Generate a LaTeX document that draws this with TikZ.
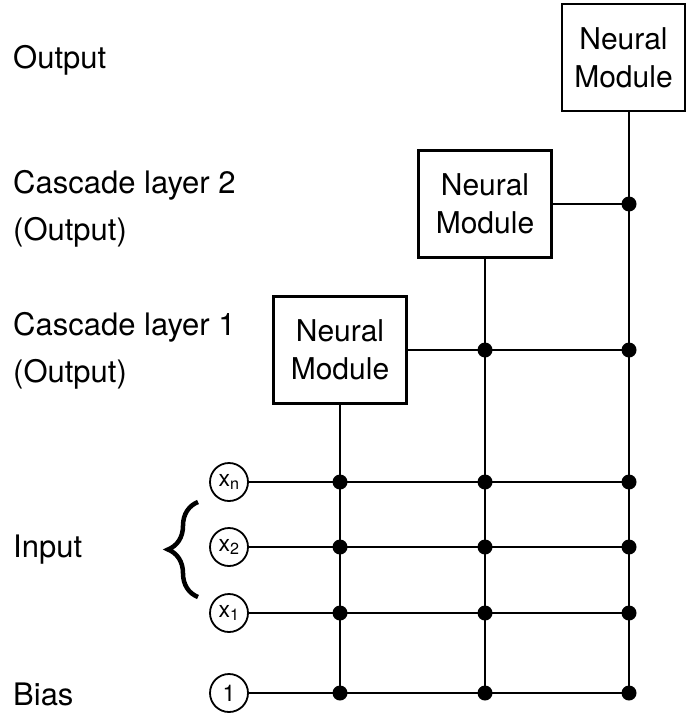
\documentclass[tikz,border=0pt]{standalone}
\usepackage{fontspec}
\setmainfont{TeX Gyre Heros}
\usetikzlibrary{calc, decorations.pathreplacing}
\tikzset{
    modbox/.style={draw, line width=2.5pt, minimum width=133pt, minimum height=107pt, inner sep=0pt, align=center, font=\fontsize{30}{38}\selectfont},
    inbox/.style={circle, draw, line width=1.8pt, minimum size=38pt, inner sep=0pt, font=\fontsize{23}{26}\selectfont},
    sidelabel/.style={anchor=base west, inner sep=0pt, font=\fontsize{31}{36}\selectfont},
    wire/.style={line width=1.6pt},
    junction/.style={fill, circle, minimum size=15pt, inner sep=0pt},
    bracedeco/.style={decorate, decoration={brace, amplitude=30pt}, line width=4.5pt}
}

\begin{document}
\begin{tikzpicture}[x=1pt, y=-1pt]
    \useasboundingbox (0,0) rectangle (686,717);

    % Labels on the left
    \node[sidelabel] (lout) at (13,68) {Output};
    \node[sidelabel] (lcasctwo) at (13,193) {Cascade layer 2};
    \node[sidelabel] (lcasctwoout) at (13,240) {(Output)};
    \node[sidelabel] (lcascone) at (13,335) {Cascade layer 1};
    \node[sidelabel] (lcasconeout) at (13,382) {(Output)};
    \node[sidelabel] (linput) at (13,557) {Input};
    \node[sidelabel] (lbias) at (13,705) {Bias};

    % Neural modules
    \node[modbox] (m1) at (340,350) {Neural\\Module};
    \node[modbox] (m2) at (485,204) {Neural\\Module};
    \node[modbox, minimum width=123pt] (m3) at (623.5,57.5) {Neural\\Module};
    \coordinate (m3col) at (629,0);

    % Input units
    \node[inbox] (xn) at (229,482) {x\textsubscript{n}};
    \node[inbox] (xtwo) at (229,547) {x\textsubscript{2}};
    \node[inbox] (xone) at (229,613) {x\textsubscript{1}};
    \node[inbox] (bias) at (229,693) {1};
    \draw[bracedeco] (198,597) -- (198,502);

    % Horizontal wires
    \foreach \r in {xn, xtwo, xone, bias}
        \draw[wire] (\r) -- (\r -| m3col);
    \draw[wire] (m1) -- (m1 -| m3col);
    \draw[wire] (m2) -- (m2 -| m3col);

    % Vertical wires
    \draw[wire] (m1) -- (m1 |- bias);
    \draw[wire] (m2) -- (m2 |- bias);
    \draw[wire] (m3.south -| m3col) -- (m3col |- bias);

    % Connections
    \foreach \r in {xn, xtwo, xone, bias} {
        \node[junction] at (m1 |- \r) {};
        \node[junction] at (m2 |- \r) {};
        \node[junction] at (m3col |- \r) {};
    }
    \node[junction] at (m2 |- m1) {};
    \node[junction] at (m3col |- m1) {};
    \node[junction] at (m3col |- m2) {};
\end{tikzpicture}
\end{document}
